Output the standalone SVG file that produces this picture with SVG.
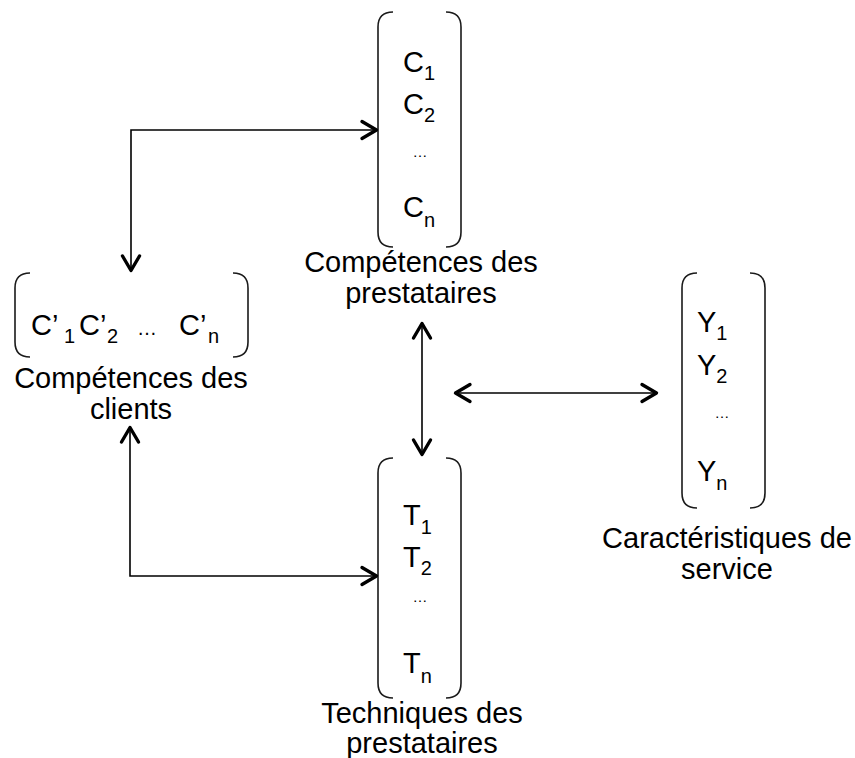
<svg xmlns="http://www.w3.org/2000/svg" width="855" height="758" viewBox="0 0 855 758">
<style>
.br{fill:none;stroke:#1a1a1a;stroke-width:1.6}
.ln{fill:none;stroke:#000;stroke-width:1.6}
.m{font-family:"Liberation Sans",Arial,sans-serif;font-size:29px;fill:#000}
.s{font-size:20px}
.el{font-family:"Liberation Sans",Arial,sans-serif;font-size:15px;fill:#000;text-anchor:middle}
.lb{font-family:"Liberation Sans",Arial,sans-serif;font-size:29px;fill:#000;text-anchor:middle}
</style>
<defs>
<marker id="ah" markerUnits="userSpaceOnUse" viewBox="-20 -12 24 24" markerWidth="24" markerHeight="24" refX="0" refY="0" orient="auto-start-reverse" overflow="visible">
<path d="M -15,-8.5 L -0.5,0 L -15,8.5" fill="none" stroke="#000" stroke-width="3.4" stroke-linecap="round" stroke-linejoin="round"/>
</marker>
</defs>
<rect width="855" height="758" fill="#fff"/>

<g id="competences-prestataires">
<path class="br" d="M 393,12 Q 378,12 378,27 L 378,232 Q 378,247 393,247"/>
<path class="br" d="M 446,12 Q 461,12 461,27 L 461,232 Q 461,247 446,247"/>
<text class="m" x="403" y="72">C<tspan class="s" dy="8">1</tspan></text>
<text class="m" x="403" y="114">C<tspan class="s" dy="8">2</tspan></text>
<text class="el" x="420" y="157">…</text>
<text class="m" x="403" y="217">C<tspan class="s" dy="10">n</tspan></text>
<text class="lb" x="421" y="272">Compétences des</text>
<text class="lb" x="421" y="303">prestataires</text>
</g>

<g id="competences-clients">
<path class="br" d="M 30,273 Q 15,273 15,288 L 15,342 Q 15,357 30,357"/>
<path class="br" d="M 233,273 Q 248,273 248,288 L 248,342 Q 248,357 233,357"/>
<text class="m" x="31" y="335">C’</text>
<text class="m s" x="64" y="343">1</text>
<text class="m" x="79" y="335">C’</text>
<text class="m s" x="107" y="343">2</text>
<text class="m" x="137" y="335" style="font-size:20px">…</text>
<text class="m" x="179" y="335">C’</text>
<text class="m s" x="208" y="343">n</text>
<text class="lb" x="131" y="388">Compétences des</text>
<text class="lb" x="131" y="419">clients</text>
</g>

<g id="caracteristiques-service">
<path class="br" d="M 697,273 Q 682,273 682,288 L 682,493 Q 682,508 697,508"/>
<path class="br" d="M 750,273 Q 765,273 765,288 L 765,493 Q 765,508 750,508"/>
<text class="m" x="697" y="332">Y<tspan class="s" dy="8">1</tspan></text>
<text class="m" x="697" y="375">Y<tspan class="s" dy="8">2</tspan></text>
<text class="el" x="722" y="418">…</text>
<text class="m" x="697" y="481">Y<tspan class="s" dy="9">n</tspan></text>
<text class="lb" x="727" y="548">Caractéristiques de</text>
<text class="lb" x="727" y="579">service</text>
</g>

<g id="techniques-prestataires">
<path class="br" d="M 393,458 Q 378,458 378,473 L 378,683 Q 378,698 393,698"/>
<path class="br" d="M 446,458 Q 461,458 461,473 L 461,683 Q 461,698 446,698"/>
<text class="m" x="403" y="525">T<tspan class="s" dy="9">1</tspan></text>
<text class="m" x="403" y="567">T<tspan class="s" dy="8">2</tspan></text>
<text class="el" x="420" y="602">…</text>
<text class="m" x="403" y="673">T<tspan class="s" dy="10">n</tspan></text>
<text class="lb" x="422" y="723">Techniques des</text>
<text class="lb" x="422" y="753">prestataires</text>
</g>

<g id="connectors">
<path class="ln" d="M 131,271 L 131,130 L 377,130" marker-start="url(#ah)" marker-end="url(#ah)"/>
<path class="ln" d="M 130,427 L 130,576 L 377,576" marker-start="url(#ah)" marker-end="url(#ah)"/>
<path class="ln" d="M 422,323 L 422,455" marker-start="url(#ah)" marker-end="url(#ah)"/>
<path class="ln" d="M 455,393 L 657,393" marker-start="url(#ah)" marker-end="url(#ah)"/>
</g>
</svg>
